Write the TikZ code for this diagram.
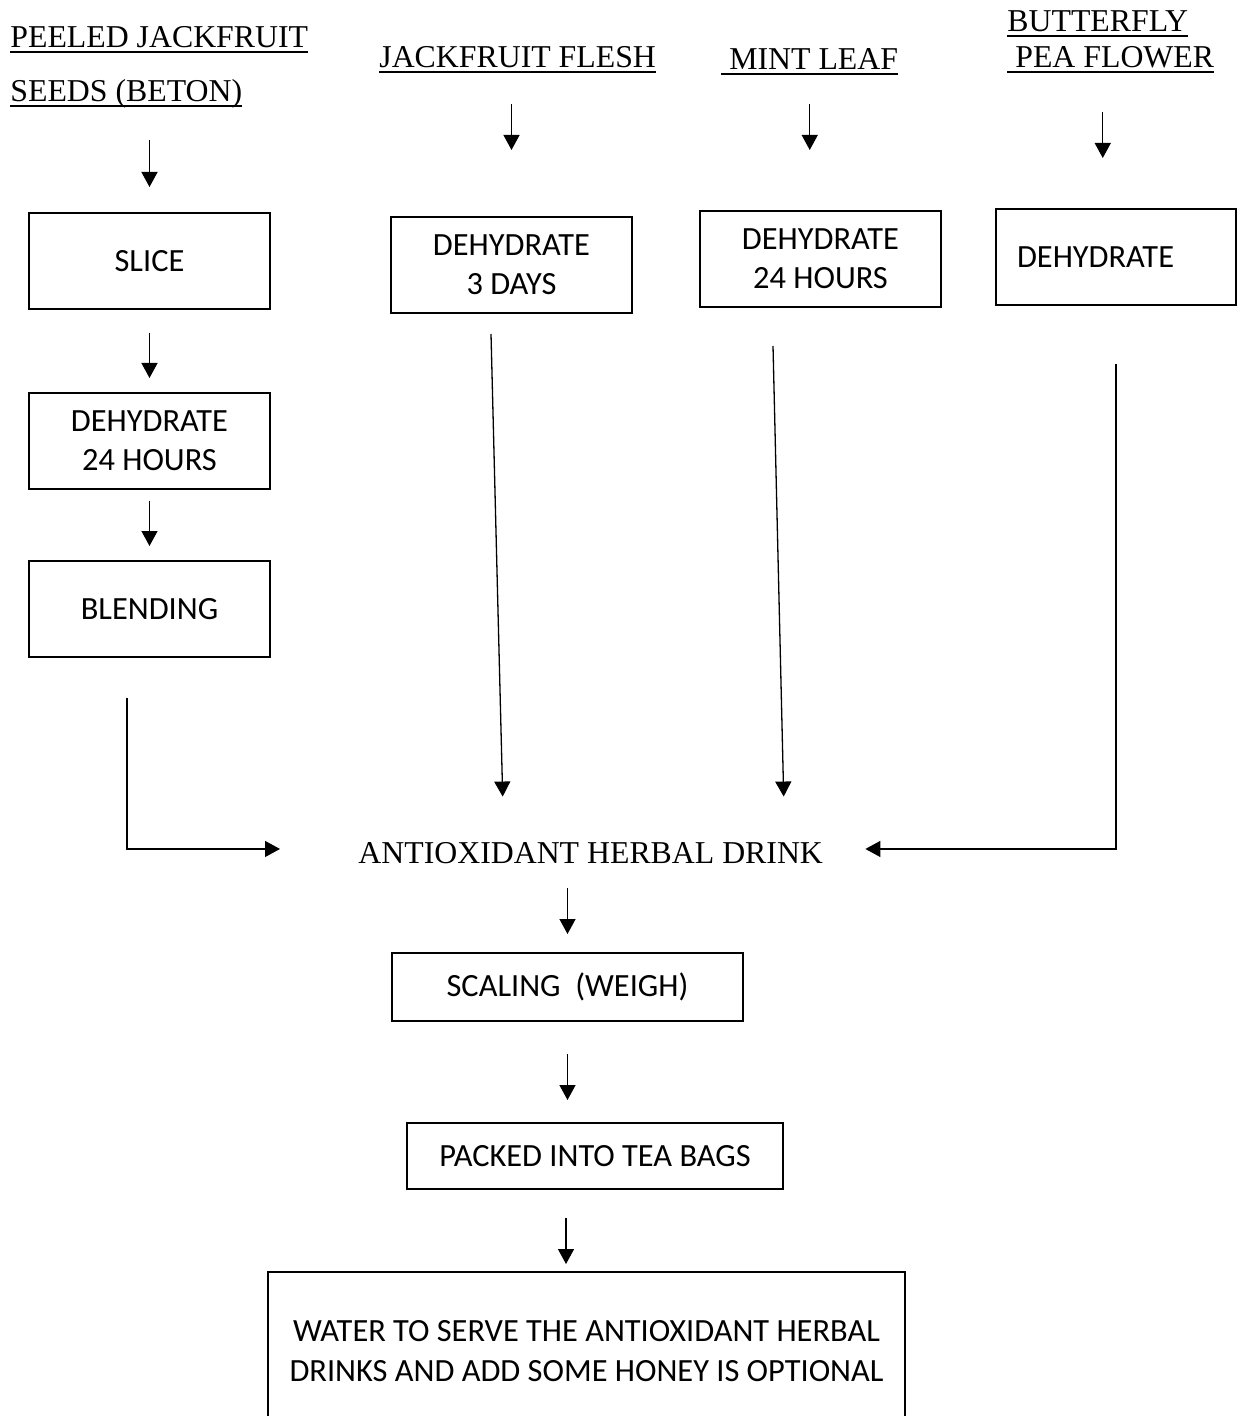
\documentclass[tikz,border=0pt]{standalone}
\usepackage{fontspec}
\setmainfont{Liberation Serif}
\newfontfamily\boxfont{Carlito}
\usetikzlibrary{arrows.meta}
\newcommand\myul[1]{\setbox0\hbox{#1}\rlap{\rule[-2.5pt]{\wd0}{0.9pt}}\box0}
\begin{document}
\begin{tikzpicture}[x=0.5pt,y=-0.5pt,
  lbl/.style={inner sep=0pt, anchor=base west, text depth=0pt, font=\fontsize{15.9pt}{19pt}\selectfont},
  stepbox/.style={draw, line width=1pt, inner sep=0pt, minimum width=120.5pt, minimum height=48pt,
    align=center, font=\boxfont\fontsize{16.2pt}{19.5pt}\selectfont},
  arr/.style={line width=0.65pt, -{Triangle[length=7.5pt,width=8pt]}}]
\useasboundingbox (0,0) rectangle (1237,1416);

% source labels
\node[lbl] (peel1) at (10,48) {\myul{PEELED JACKFRUIT}};
\node[lbl] (peel2) at (10,102) {\myul{SEEDS (BETON)}};
\node[lbl] (flesh) at (379,68) {\myul{JACKFRUIT FLESH}};
\node[lbl] (mint) at (721,70) {\myul{\ MINT LEAF}};
\node[lbl] (bfly) at (1007,32) {\myul{BUTTERFLY}};
\node[lbl] (pea) at (1007,68) {\myul{\ PEA FLOWER}};

% boxes
\node[stepbox] (slice) at (149.5,261) {SLICE};
\node[stepbox] (dehyL) at (149.5,441) {DEHYDRATE\\24 HOURS};
\node[stepbox] (blend) at (149.5,609) {BLENDING};
\node[stepbox] (dehyJ) at (511.5,265) {DEHYDRATE\\3 DAYS};
\node[stepbox] (dehyM) at (820.5,259) {DEHYDRATE\\24 HOURS};
\node[stepbox, minimum width=120pt, inner xsep=0pt] (dehyB) at (1116,257) {\makebox[120pt][l]{\hspace{10.5pt}DEHYDRATE}};

\node[lbl] (drink) at (358,863) {ANTIOXIDANT HERBAL DRINK};

\node[stepbox, minimum width=175.5pt, minimum height=34pt] (scale) at (567.5,987) {SCALING \ (WEIGH)};
\node[stepbox, minimum width=188pt, minimum height=33pt] (pack) at (595,1156) {PACKED INTO TEA BAGS};
\node[stepbox, minimum width=318.5pt, minimum height=79pt, font=\boxfont\fontsize{16.2pt}{20pt}\selectfont] (final) at (586.5,1351)
  {WATER TO SERVE THE ANTIOXIDANT HERBAL\\DRINKS AND ADD SOME HONEY IS OPTIONAL};

% connectors
\draw[arr, shorten <=19pt, shorten >=12.5pt] (peel2.south -| slice.north) -- (slice.north);
\draw[arr, shorten <=11.5pt, shorten >=7pt] (slice.south) -- (dehyL.north);
\draw[arr, shorten <=5.5pt, shorten >=7pt] (dehyL.south) -- (blend.north);
\draw[arr, shorten <=18pt, shorten >=33pt] (flesh.south -| dehyJ.north) -- (dehyJ.north);
\draw[arr, shorten <=17pt, shorten >=30pt] (mint.south) -- (mint.south |- dehyM.north);
\coordinate (peaA) at ([xshift=-4pt]pea.south);
\draw[arr, shorten <=22pt, shorten >=25pt] (peaA) -- (peaA |- dehyB.north);

\draw[arr] ([xshift=-11.25pt,yshift=-20pt]blend.south) |- ([xshift=-39pt,yshift=1.75pt]drink.west);
\draw[arr] ([xshift=-10.25pt,yshift=-10pt]dehyJ.south) -- ([xshift=-44pt,yshift=22.5pt]drink.north);
\draw[arr] ([xshift=-23.75pt,yshift=-19pt]dehyM.south) -- ([xshift=96.5pt,yshift=22.5pt]drink.north);
\draw[arr] ([yshift=-29pt]dehyB.south) |- ([xshift=21pt,yshift=1.75pt]drink.east);

\draw[arr, shorten <=12.5pt, shorten >=9pt] (drink.south -| scale.north) -- (scale.north);
\draw[arr, shorten <=16pt, shorten >=11pt] (scale.south) -- (scale.south |- pack.north);
\coordinate (pkA) at ([xshift=-14.5pt]pack.south);
\draw[arr, shorten <=14pt, shorten >=3.5pt] (pkA) -- (pkA |- final.north);
\end{tikzpicture}
\end{document}
